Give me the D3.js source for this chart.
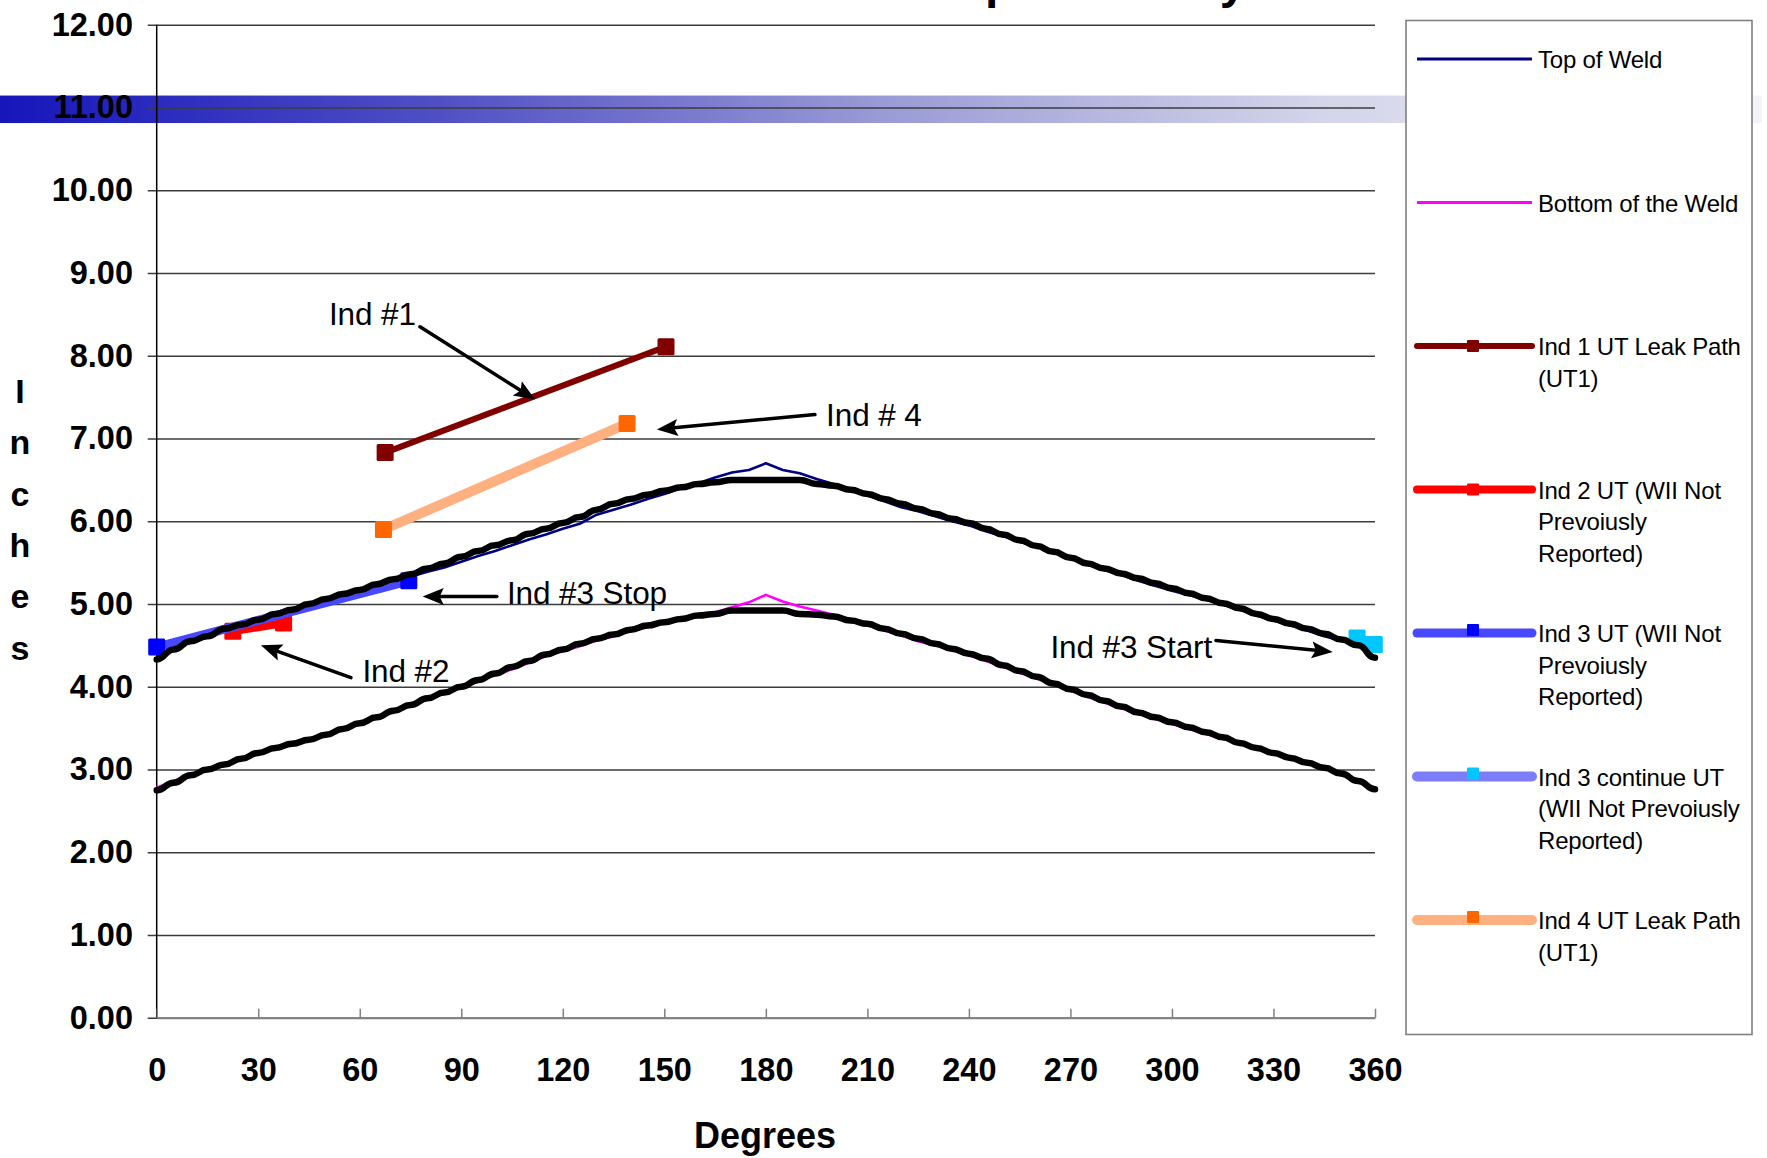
<!DOCTYPE html>
<html><head><meta charset="utf-8">
<script src="https://cdn.jsdelivr.net/npm/d3@7"></script>
<style>html,body{margin:0;padding:0;background:#fff}svg{display:block}</style>
</head><body>
<svg id="chart" width="1767" height="1158"></svg>
<script>
// ---------------- DATA ----------------
const degrees = [0,5,10,15,20,25,30,35,40,45,50,55,60,65,70,75,80,85,90,95,100,105,110,115,120,125,130,135,140,145,150,155,160,165,170,175,180,
  185,190,195,200,205,210,215,220,225,230,235,240,245,250,255,260,265,270,275,280,285,290,295,300,305,310,315,320,325,330,335,340,345,350,355,360];
const topOfWeld = [4.36,4.47,4.55,4.61,4.68,4.73,4.79,4.85,4.91,4.97,5.03,5.09,5.14,5.21,5.28,5.33,5.39,5.44,5.51,5.58,5.64,5.71,5.78,5.84,5.91,5.97,6.08,6.14,6.20,6.27,6.33,6.40,6.46,6.53,6.59,6.62,6.70,
  6.62,6.58,6.51,6.45,6.38,6.31,6.24,6.17,6.12,6.06,6.00,5.95,5.88,5.82,5.75,5.70,5.62,5.55,5.48,5.41,5.35,5.28,5.22,5.16,5.11,5.05,4.99,4.93,4.86,4.80,4.74,4.68,4.61,4.56,4.50,4.36];
const bottomOfWeld = [2.78,2.86,2.94,3.00,3.06,3.13,3.19,3.25,3.30,3.35,3.41,3.48,3.55,3.62,3.70,3.77,3.85,3.92,3.99,4.06,4.14,4.21,4.29,4.37,4.43,4.49,4.56,4.61,4.67,4.72,4.77,4.81,4.86,4.90,4.96,5.02,5.11,
  5.03,4.97,4.92,4.87,4.80,4.74,4.68,4.62,4.55,4.50,4.44,4.38,4.31,4.24,4.17,4.10,4.03,3.95,3.88,3.81,3.74,3.68,3.61,3.55,3.49,3.43,3.37,3.31,3.25,3.19,3.13,3.07,3.01,2.93,2.86,2.78];
// hand-drawn black outlines following the weld
const topOutline = [4.33,4.45,4.55,4.61,4.70,4.75,4.81,4.88,4.93,5.00,5.06,5.12,5.17,5.24,5.30,5.36,5.43,5.49,5.57,5.64,5.71,5.77,5.85,5.91,5.98,6.05,6.14,6.21,6.27,6.32,6.37,6.41,6.45,6.47,6.50,6.50,6.50,
  6.50,6.50,6.45,6.43,6.38,6.33,6.27,6.21,6.15,6.09,6.03,5.98,5.91,5.84,5.77,5.70,5.63,5.56,5.49,5.43,5.37,5.31,5.25,5.19,5.13,5.07,5.01,4.95,4.88,4.82,4.76,4.70,4.64,4.57,4.50,4.35];
const bottomOutline = [2.75,2.84,2.93,3.00,3.06,3.13,3.20,3.26,3.31,3.36,3.42,3.49,3.56,3.63,3.71,3.78,3.86,3.93,4.00,4.08,4.16,4.24,4.31,4.39,4.45,4.52,4.58,4.63,4.69,4.74,4.78,4.82,4.86,4.88,4.92,4.92,4.92,
  4.92,4.88,4.87,4.85,4.80,4.76,4.70,4.64,4.58,4.52,4.46,4.40,4.34,4.26,4.19,4.12,4.04,3.97,3.90,3.83,3.76,3.69,3.63,3.57,3.51,3.45,3.39,3.32,3.26,3.20,3.14,3.08,3.02,2.95,2.86,2.76];

const ind1Deg = [67.5, 150.5];   const ind1Val = [6.83, 8.11];
const ind2Deg = [22.5, 37.5];    const ind2Val = [4.67, 4.77];
const ind3Deg = [0, 74.5];       const ind3Val = [4.48, 5.28];
const ind3cDeg = [354.7, 359.8]; const ind3cVal = [4.59, 4.51];
const ind4Deg = [67, 139];       const ind4Val = [5.90, 7.18];

const xTicks = [0,30,60,90,120,150,180,210,240,270,300,330,360];
const yTicks = [0,1,2,3,4,5,6,7,8,9,10,11,12];

const legendLabels = [
  ["Top of Weld"],
  ["Bottom of the Weld"],
  ["Ind 1 UT Leak Path","(UT1)"],
  ["Ind 2 UT (WII Not","Prevoiusly","Reported)"],
  ["Ind 3 UT (WII Not","Prevoiusly","Reported)"],
  ["Ind 3 continue UT","(WII Not Prevoiusly","Reported)"],
  ["Ind 4 UT Leak Path","(UT1)"]
];
const titleText = "UT Indication Location Map Summary";
const xTitle = "Degrees";
const yTitle = "Inches";
// annotations: text anchor + arrow (in degrees / inches)
const noteText = ["Ind #1","Ind # 4","Ind #3 Stop","Ind #2","Ind #3 Start"];
const noteAt   = [[50.9,8.37],[197.8,7.15],[103.5,5.00],[60.8,4.06],[264.1,4.35]];
const arrowFrom= [[77.8,8.35],[194.5,7.29],[100.5,5.09],[57.4,4.11],[313.0,4.56]];
const arrowTo  = [[111.8,7.47],[147.8,7.11],[78.6,5.09],[30.8,4.50],[347.5,4.42]];

// ---------------- CHART ----------------
const FONT = "'Liberation Sans', Arial, Helvetica, sans-serif";
const svg = d3.select("#chart");
const x = d3.scaleLinear().domain([0,360]).range([156.7,1375]);
const y = d3.scaleLinear().domain([0,12]).range([1017.7,24.8]);

const defs = svg.append("defs");
const grad = defs.append("linearGradient").attr("id","band").attr("x1","0%").attr("x2","100%").attr("y1","0%").attr("y2","0%");
[[0,"#1616bb"],[0.25,"#5050c4"],[0.5,"#9a9ad6"],[0.75,"#d4d4ea"],[1,"#f3f4f8"]].forEach(s=>
  grad.append("stop").attr("offset",s[0]).attr("stop-color",s[1]));

// decorative band behind the chart
svg.append("rect").attr("x",0).attr("y",y(11)-12).attr("width",1762).attr("height",27.5).attr("fill","url(#band)");

// title (cut off at the top, as in the original)
svg.append("text").attr("x",387.6).attr("y",-2).attr("font-family",FONT).attr("font-weight","bold")
  .attr("font-size",48).attr("fill","#000").text(titleText);

// gridlines + y axis
const yAxis = d3.axisLeft(y).tickValues(yTicks).tickFormat(d3.format(".2f"))
  .tickSizeInner(-(x(360)-x(0))).tickSizeOuter(0).tickPadding(23.7);
const gy = svg.append("g").attr("transform",`translate(${x(0)},0)`).call(yAxis);
gy.select(".domain").remove();
gy.selectAll(".tick line").attr("x1",-9).attr("stroke","#3c3c3c").attr("stroke-width",1.4);
gy.selectAll(".tick text").attr("font-family",FONT).attr("font-weight","bold").attr("font-size",32.5).attr("fill","#000");
svg.append("line").attr("x1",x(0)).attr("x2",x(0)).attr("y1",y(12)).attr("y2",y(0)).attr("stroke","#000").attr("stroke-width",1.5);

// x axis
const xAxis = d3.axisBottom(x).tickValues(xTicks).tickFormat(d3.format("d")).tickSizeInner(-9).tickSizeOuter(0).tickPadding(40);
const gx = svg.append("g").attr("transform",`translate(0,${y(0)})`).call(xAxis);
gx.select(".domain").attr("stroke","#808080").attr("stroke-width",2);
gx.selectAll(".tick line").attr("stroke","#808080").attr("stroke-width",1.5);
gx.selectAll(".tick text").attr("font-family",FONT).attr("font-weight","bold").attr("font-size",32.5).attr("fill","#000");

// axis titles
svg.append("text").attr("x",765).attr("y",1148).attr("text-anchor","middle").attr("font-family",FONT)
  .attr("font-weight","bold").attr("font-size",36).text(xTitle);
svg.append("g").selectAll("text").data(yTitle.split("")).join("text")
  .attr("x",20).attr("y",(d,i)=>403+i*51.3).attr("text-anchor","middle").attr("font-family",FONT)
  .attr("font-weight","bold").attr("font-size",34).text(d=>d);

// series
const pts = (xs,ys)=>xs.map((d,i)=>[d,ys[i]]);
const line = d3.line().x(d=>x(d[0])).y(d=>y(d[1]));
const series = [
  {pts:pts(degrees,topOfWeld),    color:"#000080", w:2.6},
  {pts:pts(degrees,bottomOfWeld), color:"#ff00ff", w:2.6},
  {pts:pts(ind1Deg,ind1Val),      color:"#800000", w:6,  mk:"#800000"},
  {pts:pts(ind2Deg,ind2Val),      color:"#ff0000", w:8,  mk:"#ff0000"},
  {pts:pts(ind3Deg,ind3Val),      color:"#4848ff", w:9,  mk:"#0000ff"},
  {pts:pts(ind3cDeg,ind3cVal),    color:"#7d7dfa", w:10, mk:"#00c8ff"},
  {pts:pts(ind4Deg,ind4Val),      color:"#ffb080", w:10, mk:"#ff6600"}
];
const gs = svg.append("g");
series.forEach(s=>{
  gs.append("path").attr("d",line(s.pts)).attr("fill","none").attr("stroke",s.color)
    .attr("stroke-width",s.w).attr("stroke-linejoin","round");
  if(s.mk){
    gs.selectAll(null).data(s.pts).join("rect")
      .attr("x",d=>x(d[0])-8.5).attr("y",d=>y(d[1])-8.5).attr("width",17).attr("height",17)
      .attr("rx",1.5).attr("fill",s.mk);
  }
});

// black outlines (drawn on top)
const outline = d3.line().x(d=>x(d[0])).y(d=>y(d[1])).curve(d3.curveBumpX);
[topOutline,bottomOutline].forEach(vals=>{
  gs.append("path").attr("d",outline(pts(degrees,vals))).attr("fill","none").attr("stroke","#000")
    .attr("stroke-width",6.5).attr("stroke-linejoin","round").attr("stroke-linecap","round");
});

// annotations
const ga = svg.append("g");
noteText.forEach((t,i)=>{
  ga.append("text").attr("x",x(noteAt[i][0])).attr("y",y(noteAt[i][1])).attr("font-family",FONT)
    .attr("font-size",31.5).attr("letter-spacing",-0.1).attr("fill","#000").text(t);
  const x1=x(arrowFrom[i][0]), y1=y(arrowFrom[i][1]), x2=x(arrowTo[i][0]), y2=y(arrowTo[i][1]);
  const a=Math.atan2(y2-y1,x2-x1), L=21, hw=8.5;
  const bx=x2-L*Math.cos(a), by=y2-L*Math.sin(a);
  ga.append("line").attr("x1",x1).attr("y1",y1).attr("x2",bx+4*Math.cos(a)).attr("y2",by+4*Math.sin(a))
    .attr("stroke","#000").attr("stroke-width",3.5).attr("stroke-linecap","round");
  ga.append("path").attr("d",`M${x2},${y2}L${bx-hw*Math.sin(a)},${by+hw*Math.cos(a)}L${bx+4*Math.cos(a)},${by+4*Math.sin(a)}L${bx+hw*Math.sin(a)},${by-hw*Math.cos(a)}Z`)
    .attr("fill","#000");
});

// legend
const lg = svg.append("g");
lg.append("rect").attr("x",1406).attr("y",20.5).attr("width",346).attr("height",1014)
  .attr("fill","#fff").attr("stroke","#808080").attr("stroke-width",1.6);
series.forEach((s,i)=>{
  const cy = 59 + i*143.5;
  lg.append("line").attr("x1",1417).attr("x2",1532).attr("y1",cy).attr("y2",cy)
    .attr("stroke",s.color).attr("stroke-width",Math.max(s.w,3)).attr("stroke-linecap",s.w>5?"round":"butt");
  if(s.mk){
    lg.append("rect").attr("x",1473-6).attr("y",cy-6-(s.w>8?3:0)).attr("width",12).attr("height",12).attr("rx",1).attr("fill",s.mk);
  }
  legendLabels[i].forEach((t,j)=>{
    lg.append("text").attr("x",1538).attr("y",cy+9+j*31.5).attr("font-family",FONT)
      .attr("font-size",24).attr("letter-spacing",-0.2).attr("fill","#000").text(t);
  });
});
</script>
</body></html>
